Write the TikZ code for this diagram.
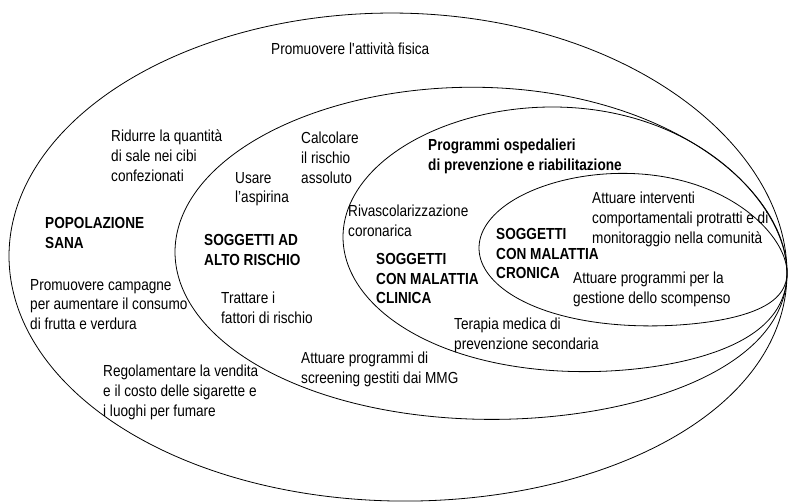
\documentclass[tikz,border=0pt]{standalone}
\usepackage{fontspec}
\setmainfont{Liberation Sans}[FakeStretch=0.85]
\usepackage{tikz}

\begin{document}
\begin{tikzpicture}[x=1pt, y=-1pt,
    ring/.style = {draw, line width=0.8pt},
    txt/.style = {align=left, anchor=north west, inner sep=0pt, font=\fontsize{16}{19.7}\selectfont},
    grp/.style = {txt, font=\fontsize{16}{19.7}\selectfont\bfseries}]
            \useasboundingbox (0,0) rectangle (789,502);
            % Ellipses, pulled down towards the common point on the right
            \draw[ring] plot[domain=0:360, samples=150, smooth] ({398+389*cos(\x)}, {256+244*sin(\x)+17*((1+cos(\x))/2)^4}) -- cycle;
            \draw[ring] plot[domain=0:360, samples=150, smooth] ({481+306*cos(\x)}, {252+166*sin(\x)+21*((1+cos(\x))/2)^4}) -- cycle;
            \draw[ring] plot[domain=0:360, samples=150, smooth] ({565+222*cos(\x)}, {237+132*sin(\x)+36*((1+cos(\x))/2)^4}) -- cycle;
            \draw[ring] plot[domain=0:360, samples=150, smooth] ({633+154*cos(\x)}, {248+76*sin(\x)+25*((1+cos(\x))/2)^4}) -- cycle;
            % Groups
            \node[grp] (sana) at (45,217) {POPOLAZIONE\\SANA};
            \node[grp] (rischio) at (204,234) {SOGGETTI AD\\ALTO RISCHIO};
            \node[grp] (clinica) at (376,253) {SOGGETTI\\CON MALATTIA\\CLINICA};
            \node[grp] (cronica) at (496,228) {SOGGETTI\\CON MALATTIA\\CRONICA};
            \node[grp] (osped) at (428,139) {Programmi ospedalieri\\di prevenzione e riabilitazione};
            % Actions
            \node[txt] (fisica) at (271,43) {Promuovere l\textquotesingle attività fisica};
            \node[txt] (sale) at (111,130) {Ridurre la quantità\\di sale nei cibi\\confezionati};
            \node[txt] (calcolo) at (301,132) {Calcolare\\il rischio\\assoluto};
            \node[txt] (aspirina) at (235,172) {Usare\\l’aspirina};
            \node[txt] (rivasc) at (348,205) {Rivascolarizzazione\\coronarica};
            \node[txt] (interv) at (592,192) {Attuare interventi\\comportamentali protratti e di\\monitoraggio nella comunità};
            \node[txt] (scomp) at (573,272) {Attuare programmi per la\\gestione dello scompenso};
            \node[txt] (frutta) at (30,279) {Promuovere campagne\\per aumentare il consumo\\di frutta e verdura};
            \node[txt] (fattori) at (221,292) {Trattare i\\fattori di rischio};
            \node[txt] (terapia) at (454,318) {Terapia medica di\\prevenzione secondaria};
            \node[txt] (screen) at (301,352) {Attuare programmi di\\screening gestiti dai MMG};
            \node[txt] (sigar) at (103,365) {Regolamentare la vendita\\e il costo delle sigarette e\\i luoghi per fumare};
\end{tikzpicture}
\end{document}
